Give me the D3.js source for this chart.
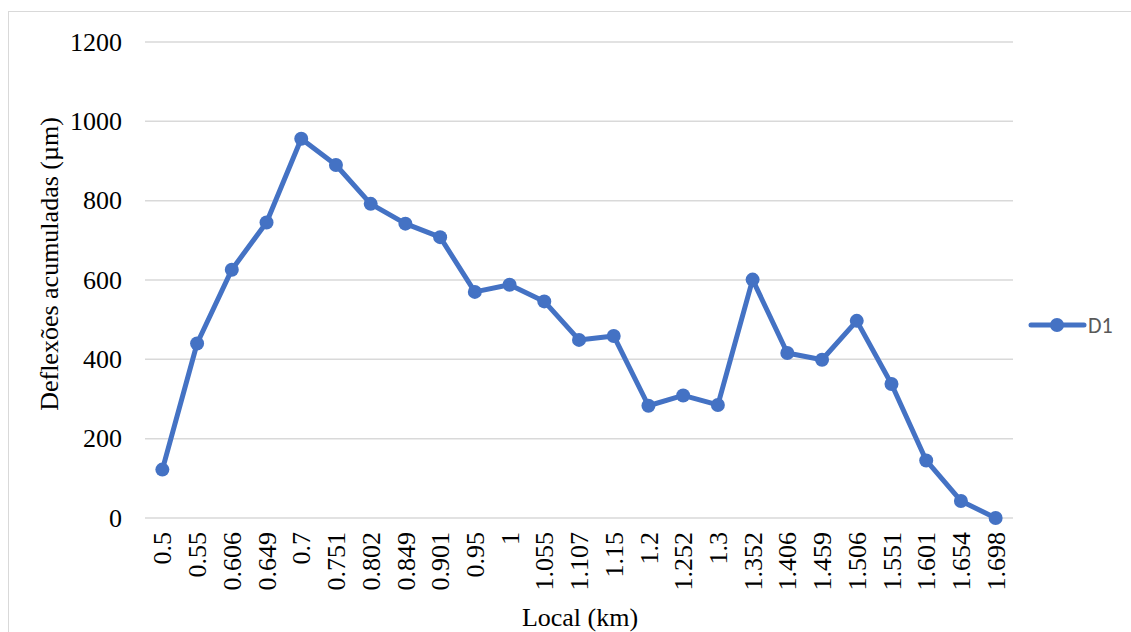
<!DOCTYPE html>
<html>
<head>
<meta charset="utf-8">
<script src="https://cdn.jsdelivr.net/npm/d3@7/dist/d3.min.js"></script>
<style>
  html, body { margin: 0; padding: 0; background: #fff; }
  svg { display: block; }
</style>
</head>
<body>
<svg id="chart" width="1131" height="632"></svg>
<script>
// Station positions along the road (km)
const categories = ["0.5","0.55","0.606","0.649","0.7","0.751","0.802","0.849","0.901","0.95","1","1.055","1.107","1.15","1.2","1.252","1.3","1.352","1.406","1.459","1.506","1.551","1.601","1.654","1.698"];
// Accumulated deflections, D1 sensor (µm)
const d1Values = [122,440,626,745,956,890,792,742,708,570,588,546,449,459,283,309,285,601,416,399,497,338,145,43,0];
const yTicks = [0,200,400,600,800,1000,1200];
const seriesName = "D1";

const svg = d3.select("#chart");
const W = 1131, H = 632;
const margin = { left: 145, right: 118, top: 42, bottom: 114 };
const plotW = W - margin.left - margin.right;
const plotH = H - margin.top - margin.bottom;
const blue = "#4472C4";
const serif = "'Liberation Serif', 'Times New Roman', serif";

// outer chart frame
svg.append("rect")
  .attr("x", 8.5).attr("y", 11.5)
  .attr("width", W + 20).attr("height", H + 20)
  .attr("fill", "#fff").attr("stroke", "#d9d9d9").attr("stroke-width", 1);

const x = d3.scaleBand().domain(categories).range([0, plotW]);
const y = d3.scaleLinear().domain([0, 1200]).range([plotH, 0]);

const g = svg.append("g").attr("transform", `translate(${margin.left},${margin.top})`);

// horizontal gridlines
g.append("g")
  .selectAll("line").data(yTicks).join("line")
  .attr("x1", 0).attr("x2", plotW)
  .attr("y1", d => y(d)).attr("y2", d => y(d))
  .attr("stroke", "#d9d9d9").attr("stroke-width", 1.5);

// y axis labels
const yAxis = d3.axisLeft(y).tickValues(yTicks).tickFormat(d3.format("d")).tickSize(0).tickPadding(23);
const yg = g.append("g").call(yAxis);
yg.select(".domain").remove();
yg.selectAll("text")
  .attr("font-family", serif)
  .attr("font-size", 26).attr("fill", "#000");

// x axis labels (rotated)
const xAxis = d3.axisBottom(x).tickSize(0).tickPadding(0);
const xg = g.append("g").attr("transform", `translate(0,${plotH})`).call(xAxis);
xg.select(".domain").remove();
xg.selectAll("text")
  .attr("font-family", serif)
  .attr("font-size", 26).attr("fill", "#000")
  .attr("text-anchor", "end")
  .attr("dy", "0.35em")
  .attr("transform", "translate(0,14) rotate(-90)")
  .attr("x", 0).attr("y", 0);

// series line
const cx = d => x(d) + x.bandwidth() / 2;
const line = d3.line().x((d, i) => cx(categories[i])).y(d => y(d));
g.append("path")
  .datum(d1Values)
  .attr("d", line)
  .attr("fill", "none").attr("stroke", blue)
  .attr("stroke-width", 5).attr("stroke-linejoin", "round").attr("stroke-linecap", "round");

g.append("g")
  .selectAll("circle").data(d1Values).join("circle")
  .attr("cx", (d, i) => cx(categories[i]))
  .attr("cy", d => y(d))
  .attr("r", 7).attr("fill", blue);

// axis titles
svg.append("text")
  .attr("transform", "translate(58,264) rotate(-90)")
  .attr("text-anchor", "middle")
  .attr("font-family", serif)
  .attr("font-size", 26).attr("fill", "#000")
  .text("Deflexões acumuladas (µm)");

svg.append("text")
  .attr("x", 580).attr("y", 626)
  .attr("text-anchor", "middle")
  .attr("font-family", serif)
  .attr("font-size", 26).attr("fill", "#000")
  .text("Local (km)");

// legend
const lg = svg.append("g").attr("transform", "translate(1031,325)");
lg.append("line").attr("x1", 0).attr("x2", 53).attr("y1", 0).attr("y2", 0)
  .attr("stroke", blue).attr("stroke-width", 5).attr("stroke-linecap", "round");
lg.append("circle").attr("cx", 26).attr("cy", 0).attr("r", 7).attr("fill", blue);
lg.append("text").attr("x", 57).attr("y", 0).attr("dy", "0.35em")
  .attr("font-family", "Carlito, 'Liberation Sans', 'Open Sans', sans-serif")
  .attr("font-size", 22).attr("fill", "#595959")
  .text(seriesName);
</script>
</body>
</html>
